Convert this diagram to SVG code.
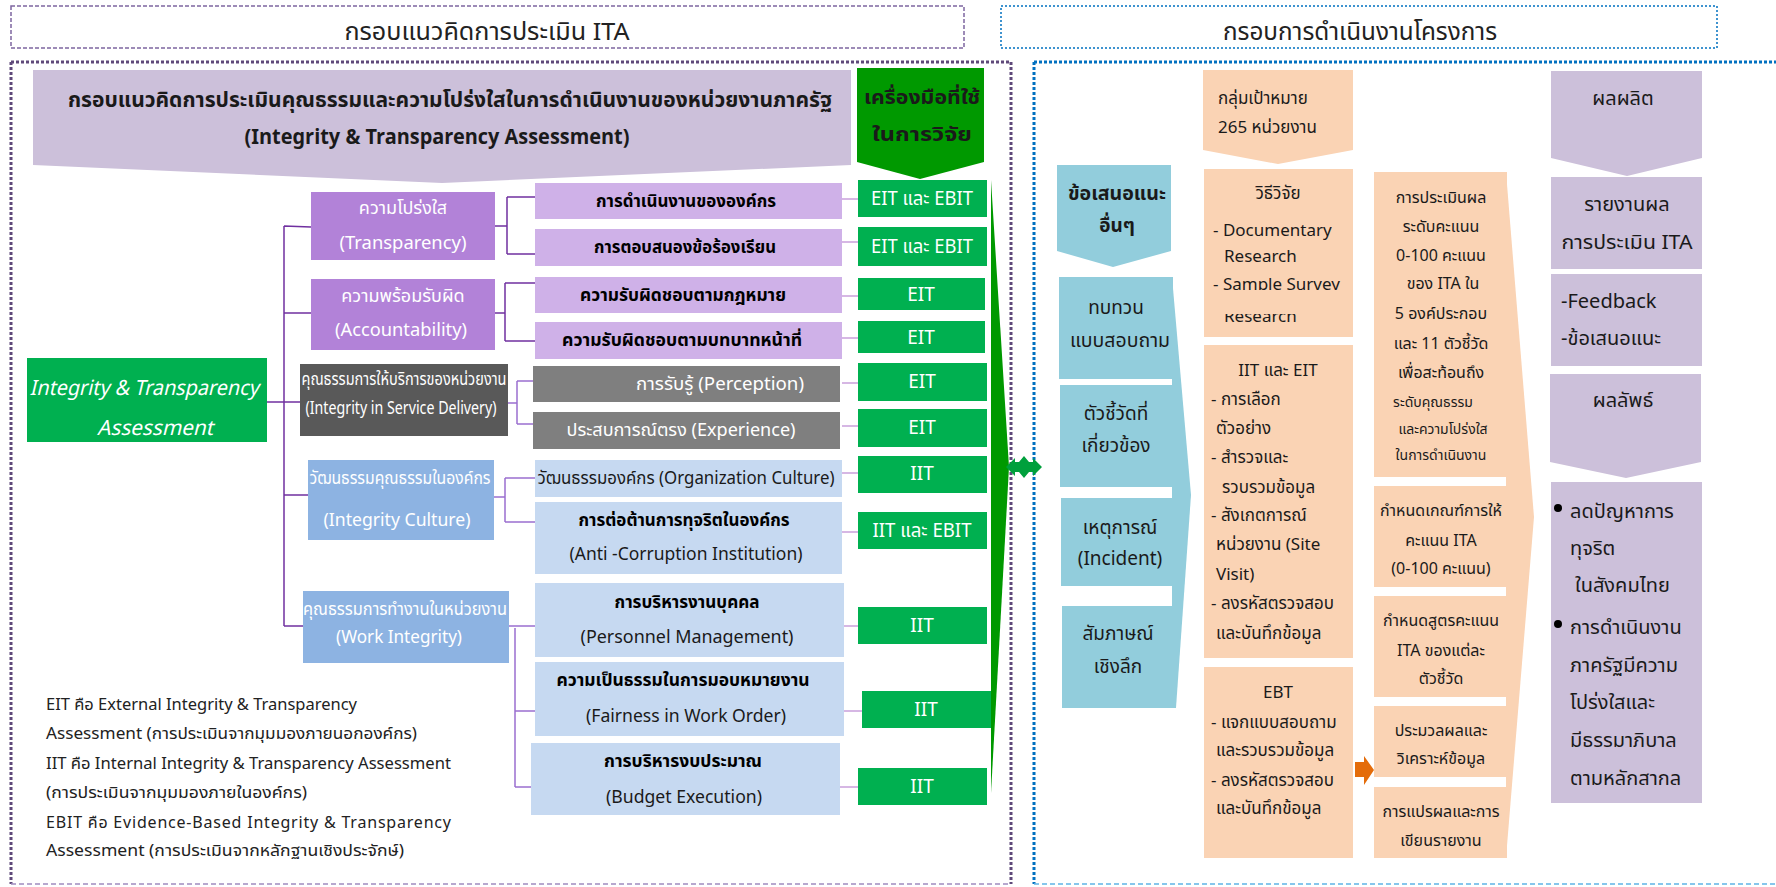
<svg xmlns="http://www.w3.org/2000/svg" width="1776" height="887" viewBox="0 0 1776 887">
<style>
text{font-family:'Noto Sans Thai','Noto Sans','DejaVu Sans',sans-serif;fill:#1a1a1a}
.c{text-anchor:middle}
.w{fill:#fff}
.b{font-weight:bold}
.hd{font-size:24px;fill:#222}
.cat{font-size:18px;fill:#fff}
.sub{font-size:17px;font-weight:bold;fill:#000}
.tool{font-size:19px;fill:#fff}
.tl{font-size:19px}
.or{font-size:17px}
.o3{font-size:16px}
.lv{font-size:20px}
.lg{font-size:16px;fill:#222}
.conn{stroke:#7030a0;stroke-width:1.5;fill:none}
.conn2{stroke:#9b6fcf;stroke-width:1.5;fill:none}
.conn3{stroke:#c9a0dc;stroke-width:1.5;fill:none}
</style>
<defs>
<clipPath id="clipA"><rect x="1204" y="268" width="149" height="22"/></clipPath>
<clipPath id="clipB"><rect x="1204" y="314" width="149" height="23"/></clipPath>
</defs>
<rect width="1776" height="887" fill="#fff"/>

<g id="headers">
<rect x="11" y="6" width="953" height="42" fill="none" stroke="#7d65a0" stroke-width="1.5" stroke-dasharray="4 2"/>
<text class="hd c" x="487" y="40" textLength="285" lengthAdjust="spacingAndGlyphs">กรอบแนวคิดการประเมิน ITA</text>
<rect x="1001" y="6" width="716" height="42" fill="none" stroke="#0070c0" stroke-width="1.5" stroke-dasharray="2 2"/>
<text class="hd c" x="1360" y="40" textLength="274" lengthAdjust="spacingAndGlyphs">กรอบการดำเนินงานโครงการ</text>
</g>

<g id="frames">
<path d="M11 62H1011M11 62V884M1011 62V884" fill="none" stroke="#5f497a" stroke-width="3" stroke-dasharray="3 2"/>
<path d="M11 884H1011" fill="none" stroke="#a08cc0" stroke-width="1.5" stroke-dasharray="5 3"/>
<path d="M1034 62H1776M1034 62V884" fill="none" stroke="#0070c0" stroke-width="3" stroke-dasharray="3 2"/>
<path d="M1034 884H1776" fill="none" stroke="#5fb4e6" stroke-width="1.5" stroke-dasharray="5 3"/>
</g>

<g id="title-arrow">
<polygon points="33,70 851,70 851,165 442,183 33,165" fill="#ccc0da"/>
<text class="c b" x="450" y="107" font-size="21" textLength="764" lengthAdjust="spacingAndGlyphs">กรอบแนวคิดการประเมินคุณธรรมและความโปร่งใสในการดำเนินงานของหน่วยงานภาครัฐ</text>
<text class="c b" x="437" y="144" font-size="22" textLength="385" lengthAdjust="spacingAndGlyphs">(Integrity &amp; Transparency Assessment)</text>
</g>

<g id="tools-arrow">
<polygon points="857,68 984,68 984,162 920,179 857,162" fill="#009900"/>
<text class="c b" x="922" y="104" font-size="19" fill="#000" textLength="116" lengthAdjust="spacingAndGlyphs">เครื่องมือที่ใช้</text>
<text class="c b" x="922" y="141" font-size="19" fill="#000" textLength="100" lengthAdjust="spacingAndGlyphs">ในการวิจัย</text>
</g>

<g id="connectors">
<path class="conn" d="M284 226V626M267 402H300M284 226L311 227M284 313H311M284 495H308M284 626H303"/>
<path class="conn" d="M495 226H507M507 197V254M507 197H538M507 254H538"/>
<path class="conn" d="M495 313H505M505 283V341M505 283H540M505 341H538"/>
<path class="conn2" d="M508 403H517M517 381V424M517 381H537M517 424H537"/>
<path class="conn2" d="M494 497H505M505 478V522M505 478H535M505 522H535"/>
<path class="conn2" d="M509 626H536M515 628V787M515 711H537M515 787H537"/>
<path class="conn3" d="M842 199H858M842 242H858M842 296H858M842 338H858M842 383H858M842 426H858M842 473H858M842 532H858M844 626H858M844 711H862M840 787H858"/>
</g>

<g id="root">
<rect x="27" y="358" width="240" height="84" fill="#00b050"/>
<text class="w c" x="144" y="395" font-size="21" font-style="italic" textLength="229" lengthAdjust="spacingAndGlyphs">Integrity &amp; Transparency</text>
<text class="w c" x="155" y="435" font-size="21" font-style="italic" textLength="116" lengthAdjust="spacingAndGlyphs">Assessment</text>
</g>

<g id="cat-transparency">
<rect x="311" y="192" width="184" height="68" fill="#b282d8"/>
<text class="cat c" x="403" y="214">ความโปร่งใส</text>
<text class="cat c" x="403" y="249" textLength="127" lengthAdjust="spacingAndGlyphs">(Transparency)</text>
</g>
<g id="cat-accountability">
<rect x="311" y="279" width="184" height="71" fill="#b282d8"/>
<text class="cat c" x="403" y="302">ความพร้อมรับผิด</text>
<text class="cat c" x="401" y="336" textLength="132" lengthAdjust="spacingAndGlyphs">(Accountability)</text>
</g>
<g id="cat-service">
<rect x="300" y="364" width="208" height="72" fill="#595959"/>
<text class="cat c" x="404" y="385" font-size="14" textLength="205" lengthAdjust="spacingAndGlyphs">คุณธรรมการให้บริการของหน่วยงาน</text>
<text class="cat c" x="401" y="414" font-size="15" textLength="191" lengthAdjust="spacingAndGlyphs">(Integrity in Service Delivery)</text>
</g>
<g id="cat-culture">
<rect x="308" y="460" width="186" height="80" fill="#8db3e2"/>
<text class="cat c" x="400" y="484" font-size="15" textLength="181" lengthAdjust="spacingAndGlyphs">วัฒนธรรมคุณธรรมในองค์กร</text>
<text class="cat c" x="397" y="526" textLength="147" lengthAdjust="spacingAndGlyphs">(Integrity Culture)</text>
</g>
<g id="cat-work">
<rect x="303" y="591" width="206" height="72" fill="#8db3e2"/>
<text class="cat c" x="405" y="615" font-size="15" textLength="204" lengthAdjust="spacingAndGlyphs">คุณธรรมการทำงานในหน่วยงาน</text>
<text class="cat c" x="399" y="643" textLength="126" lengthAdjust="spacingAndGlyphs">(Work Integrity)</text>
</g>

<g id="sub-1"><rect x="535" y="183" width="307" height="36" fill="#cfb1e8"/><text class="sub c" x="686" y="207" textLength="180" lengthAdjust="spacingAndGlyphs">การดำเนินงานขององค์กร</text></g>
<g id="sub-2"><rect x="535" y="229" width="307" height="37" fill="#cfb1e8"/><text class="sub c" x="685" y="253" textLength="182" lengthAdjust="spacingAndGlyphs">การตอบสนองข้อร้องเรียน</text></g>
<g id="sub-3"><rect x="535" y="277" width="307" height="36" fill="#cfb1e8"/><text class="sub c" x="683" y="301" textLength="206" lengthAdjust="spacingAndGlyphs">ความรับผิดชอบตามกฎหมาย</text></g>
<g id="sub-4"><rect x="535" y="322" width="307" height="37" fill="#cfb1e8"/><text class="sub c" x="682" y="346" textLength="240" lengthAdjust="spacingAndGlyphs">ความรับผิดชอบตามบทบาทหน้าที่</text></g>
<g id="sub-5"><rect x="533" y="366" width="307" height="36" fill="#7f7f7f"/><text class="c w" x="720" y="390" font-size="18" textLength="168" lengthAdjust="spacingAndGlyphs">การรับรู้ (Perception)</text></g>
<g id="sub-6"><rect x="533" y="412" width="307" height="37" fill="#7f7f7f"/><text class="c w" x="681" y="436" font-size="18" textLength="229" lengthAdjust="spacingAndGlyphs">ประสบการณ์ตรง (Experience)</text></g>
<g id="sub-7"><rect x="535" y="460" width="307" height="37" fill="#c6d9f1"/><text class="c" x="686" y="484" font-size="18" fill="#000" textLength="297" lengthAdjust="spacingAndGlyphs">วัฒนธรรมองค์กร  (Organization Culture)</text></g>
<g id="sub-8"><rect x="535" y="502" width="307" height="72" fill="#c6d9f1"/>
<text class="sub c" x="684" y="526" textLength="211" lengthAdjust="spacingAndGlyphs">การต่อต้านการทุจริตในองค์กร</text>
<text class="c" x="686" y="560" font-size="18" fill="#000" textLength="233" lengthAdjust="spacingAndGlyphs">(Anti -Corruption Institution)</text></g>
<g id="sub-9"><rect x="535" y="583" width="309" height="74" fill="#c6d9f1"/>
<text class="sub c" x="687" y="608" textLength="145" lengthAdjust="spacingAndGlyphs">การบริหารงานบุคคล</text>
<text class="c" x="687" y="643" font-size="18" fill="#000" textLength="213" lengthAdjust="spacingAndGlyphs">(Personnel  Management)</text></g>
<g id="sub-10"><rect x="535" y="662" width="309" height="74" fill="#c6d9f1"/>
<text class="sub c" x="683" y="686" textLength="253" lengthAdjust="spacingAndGlyphs">ความเป็นธรรมในการมอบหมายงาน</text>
<text class="c" x="686" y="722" font-size="18" fill="#000" textLength="200" lengthAdjust="spacingAndGlyphs">(Fairness in Work Order)</text></g>
<g id="sub-11"><rect x="531" y="743" width="309" height="72" fill="#c6d9f1"/>
<text class="sub c" x="683" y="767" textLength="158" lengthAdjust="spacingAndGlyphs">การบริหารงบประมาณ</text>
<text class="c" x="684" y="803" font-size="18" fill="#000" textLength="156" lengthAdjust="spacingAndGlyphs">(Budget Execution)</text></g>

<g id="tool-1"><rect x="858" y="180" width="129" height="37" fill="#00b050"/><text class="tool c" x="922" y="205" textLength="102" lengthAdjust="spacingAndGlyphs">EIT และ EBIT</text></g>
<g id="tool-2"><rect x="858" y="227" width="129" height="39" fill="#00b050"/><text class="tool c" x="922" y="253" textLength="102" lengthAdjust="spacingAndGlyphs">EIT และ EBIT</text></g>
<g id="tool-3"><rect x="858" y="278" width="127" height="32" fill="#00b050"/><text class="tool c" x="921" y="301">EIT</text></g>
<g id="tool-4"><rect x="858" y="321" width="127" height="32" fill="#00b050"/><text class="tool c" x="921" y="344">EIT</text></g>
<g id="tool-5"><rect x="858" y="363" width="129" height="38" fill="#00b050"/><text class="tool c" x="922" y="388">EIT</text></g>
<g id="tool-6"><rect x="858" y="409" width="129" height="38" fill="#00b050"/><text class="tool c" x="922" y="434">EIT</text></g>
<g id="tool-7"><rect x="858" y="456" width="129" height="37" fill="#00b050"/><text class="tool c" x="922" y="480">IIT</text></g>
<g id="tool-8"><rect x="858" y="512" width="129" height="37" fill="#00b050"/><text class="tool c" x="922" y="537" textLength="99" lengthAdjust="spacingAndGlyphs">IIT และ EBIT</text></g>
<g id="tool-9"><rect x="858" y="607" width="129" height="37" fill="#00b050"/><text class="tool c" x="922" y="632">IIT</text></g>
<g id="tool-10"><rect x="862" y="691" width="129" height="37" fill="#00b050"/><text class="tool c" x="926" y="716">IIT</text></g>
<g id="tool-11"><rect x="858" y="768" width="129" height="37" fill="#00b050"/><text class="tool c" x="922" y="793">IIT</text></g>

<g id="green-wedge"><polygon points="991,180 1009,467 991,793" fill="#009900"/></g>
<g id="double-arrow"><polygon points="1006,467 1015,458 1015,462 1019,462 1024,456 1029,462 1033,462 1033,458 1042,467 1033,476 1033,472 1029,472 1024,478 1019,472 1015,472 1015,476" fill="#00a03c"/></g>

<g id="legend">
<text class="lg" x="46" y="710" textLength="311" lengthAdjust="spacingAndGlyphs">EIT คือ External Integrity &amp; Transparency</text>
<text class="lg" x="46" y="739" textLength="371" lengthAdjust="spacingAndGlyphs">Assessment (การประเมินจากมุมมองภายนอกองค์กร)</text>
<text class="lg" x="46" y="769" textLength="405" lengthAdjust="spacingAndGlyphs">IIT คือ Internal Integrity &amp; Transparency Assessment</text>
<text class="lg" x="46" y="798" textLength="261" lengthAdjust="spacingAndGlyphs">(การประเมินจากมุมมองภายในองค์กร)</text>
<text class="lg" x="46" y="828" textLength="405" lengthAdjust="spacing">EBIT  คือ Evidence-Based  Integrity  &amp;  Transparency</text>
<text class="lg" x="46" y="856" textLength="358" lengthAdjust="spacingAndGlyphs">Assessment (การประเมินจากหลักฐานเชิงประจักษ์)</text>
</g>

<g id="teal-arrow"><polygon points="1057,165 1171,165 1171,251 1113,267 1057,251" fill="#92cddc"/>
<text class="tl c b" x="1117" y="200" fill="#000" textLength="98" lengthAdjust="spacingAndGlyphs">ข้อเสนอแนะ</text>
<text class="tl c b" x="1117" y="232" fill="#000">อื่นๆ</text></g>
<g id="teal-wedge"><polygon points="1172,277 1191,495 1176,708 1172,708" fill="#92cddc"/></g>
<g id="teal-1"><rect x="1059" y="277" width="114" height="102" fill="#92cddc"/><text class="tl c" x="1116" y="314">ทบทวน</text><text class="tl c" x="1120" y="347" textLength="100" lengthAdjust="spacingAndGlyphs">แบบสอบถาม</text></g>
<g id="teal-2"><rect x="1060" y="385" width="113" height="102" fill="#92cddc"/><text class="tl c" x="1116" y="420">ตัวชี้วัดที่</text><text class="tl c" x="1116" y="452">เกี่ยวข้อง</text></g>
<g id="teal-3"><rect x="1061" y="498" width="112" height="88" fill="#92cddc"/><text class="tl c" x="1120" y="534">เหตุการณ์</text><text class="tl c" x="1120" y="565">(Incident)</text></g>
<g id="teal-4"><rect x="1062" y="606" width="114" height="102" fill="#92cddc"/><text class="tl c" x="1118" y="640">สัมภาษณ์</text><text class="tl c" x="1118" y="673">เชิงลึก</text></g>

<g id="target-arrow"><polygon points="1203,70 1353,70 1353,150 1278,164 1203,150" fill="#fad3b4"/>
<text class="or" x="1218" y="104">กลุ่มเป้าหมาย</text><text class="or" x="1218" y="133">265 หน่วยงาน</text></g>
<g id="method"><rect x="1204" y="169" width="149" height="168" fill="#fad3b4"/>
<text class="or c" x="1278" y="199">วิธีวิจัย</text>
<text class="or" x="1213" y="236">- Documentary</text>
<text class="or" x="1224" y="262">Research</text>
<text class="or" x="1213" y="290" clip-path="url(#clipA)">- Sample Survey</text>
<text class="or" x="1224" y="322" clip-path="url(#clipB)">Research</text></g>
<g id="iit-eit"><rect x="1204" y="345" width="149" height="313" fill="#fad3b4"/>
<text class="or c" x="1278" y="376">IIT และ EIT</text>
<text class="or" x="1211" y="405">- การเลือก</text>
<text class="or" x="1216" y="434">ตัวอย่าง</text>
<text class="or" x="1211" y="463">- สำรวจและ</text>
<text class="or" x="1222" y="493">รวบรวมข้อมูล</text>
<text class="or" x="1211" y="521">- สังเกตการณ์</text>
<text class="or" x="1216" y="550">หน่วยงาน (Site</text>
<text class="or" x="1216" y="580">Visit)</text>
<text class="or" x="1211" y="609">- ลงรหัสตรวจสอบ</text>
<text class="or" x="1216" y="639">และบันทึกข้อมูล</text></g>
<g id="ebt"><rect x="1204" y="667" width="149" height="191" fill="#fad3b4"/>
<text class="or c" x="1278" y="698">EBT</text>
<text class="or" x="1211" y="728">- แจกแบบสอบถาม</text>
<text class="or" x="1216" y="756">และรวบรวมข้อมูล</text>
<text class="or" x="1211" y="786">- ลงรหัสตรวจสอบ</text>
<text class="or" x="1216" y="814">และบันทึกข้อมูล</text></g>
<g id="orange-arrow"><polygon points="1355,762 1364,762 1364,756 1374,770 1364,785 1364,777 1355,777" fill="#e46c0a"/></g>

<g id="process-wedge"><polygon points="1506,172 1534,517 1506,858" fill="#fad3b4"/></g>
<g id="proc-1"><rect x="1374" y="172" width="133" height="305" fill="#fad3b4"/>
<text class="o3 c" x="1441" y="203">การประเมินผล</text>
<text class="o3 c" x="1441" y="232">ระดับคะแนน</text>
<text class="o3 c" x="1441" y="261">0-100 คะแนน</text>
<text class="o3 c" x="1443" y="289">ของ ITA ใน</text>
<text class="o3 c" x="1441" y="319">5 องค์ประกอบ</text>
<text class="o3 c" x="1441" y="349">และ 11 ตัวชี้วัด</text>
<text class="o3 c" x="1441" y="378">เพื่อสะท้อนถึง</text>
<text class="c" x="1433" y="407" font-size="14">ระดับคุณธรรม</text>
<text class="c" x="1443" y="434" font-size="14">และความโปร่งใส</text>
<text class="c" x="1441" y="460" font-size="14">ในการดำเนินงาน</text></g>
<g id="proc-2"><rect x="1374" y="486" width="133" height="101" fill="#fad3b4"/>
<text class="o3 c" x="1441" y="516">กำหนดเกณฑ์การให้</text>
<text class="o3 c" x="1441" y="546">คะแนน ITA</text>
<text class="o3 c" x="1441" y="574">(0-100 คะแนน)</text></g>
<g id="proc-3"><rect x="1374" y="596" width="133" height="101" fill="#fad3b4"/>
<text class="o3 c" x="1441" y="626">กำหนดสูตรคะแนน</text>
<text class="o3 c" x="1441" y="656">ITA ของแต่ละ</text>
<text class="o3 c" x="1441" y="684">ตัวชี้วัด</text></g>
<g id="proc-4"><rect x="1374" y="706" width="133" height="71" fill="#fad3b4"/>
<text class="o3 c" x="1441" y="736">ประมวลผลและ</text>
<text class="o3 c" x="1441" y="764">วิเคราะห์ข้อมูล</text></g>
<g id="proc-5"><rect x="1374" y="787" width="133" height="71" fill="#fad3b4"/>
<text class="o3 c" x="1441" y="817">การแปรผลและการ</text>
<text class="o3 c" x="1441" y="846">เขียนรายงาน</text></g>

<g id="output-arrow"><polygon points="1551,71 1702,71 1702,158 1627,176 1551,158" fill="#ccc0da"/>
<text class="lv c" x="1623" y="105">ผลผลิต</text></g>
<g id="report"><rect x="1551" y="177" width="151" height="92" fill="#ccc0da"/>
<text class="lv c" x="1627" y="211">รายงานผล</text>
<text class="lv c" x="1627" y="249" textLength="131" lengthAdjust="spacingAndGlyphs">การประเมิน ITA</text></g>
<g id="feedback"><rect x="1551" y="274" width="151" height="92" fill="#ccc0da"/>
<text class="lv" x="1561" y="308">-Feedback</text>
<text class="lv" x="1561" y="345">-ข้อเสนอแนะ</text></g>
<g id="outcome-arrow"><polygon points="1550,374 1701,374 1701,462 1626,478 1550,462" fill="#ccc0da"/>
<text class="lv c" x="1623" y="407">ผลลัพธ์</text></g>
<g id="outcome"><rect x="1551" y="482" width="151" height="321" fill="#ccc0da"/>
<circle cx="1558" cy="508" r="4" fill="#000"/>
<text class="lv" x="1570" y="518">ลดปัญหาการ</text>
<text class="lv" x="1570" y="555">ทุจริต</text>
<text class="lv" x="1575" y="592">ในสังคมไทย</text>
<circle cx="1558" cy="624" r="4" fill="#000"/>
<text class="lv" x="1570" y="634">การดำเนินงาน</text>
<text class="lv" x="1570" y="672">ภาครัฐมีความ</text>
<text class="lv" x="1570" y="709">โปร่งใสและ</text>
<text class="lv" x="1570" y="747">มีธรรมาภิบาล</text>
<text class="lv" x="1570" y="785">ตามหลักสากล</text></g>
</svg>
